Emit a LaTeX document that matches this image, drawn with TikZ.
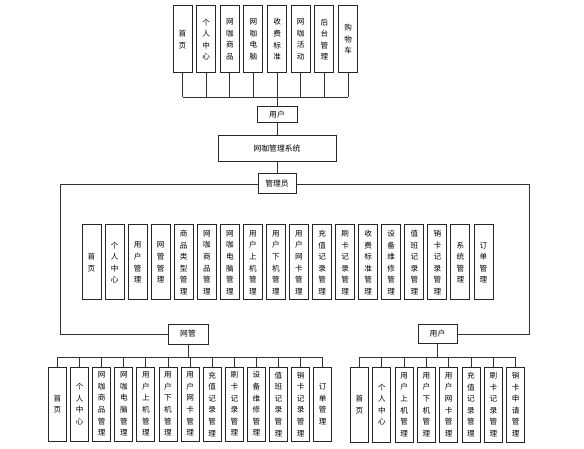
\documentclass[tikz,border=0pt]{standalone}
\usepackage{fontspec}
\newfontfamily\cjk{Noto Sans CJK SC}
\usetikzlibrary{positioning}

\begin{document}
\begin{tikzpicture}[
    x=1pt, y=-1pt,
    vbox/.style={draw=black!85, line width=1pt, fill=white, inner sep=0pt, align=center, font=\cjk\fontsize{7.6}{11.6}\selectfont},
    hbox/.style={draw=black!85, line width=1pt, fill=white, inner sep=0pt, font=\cjk\fontsize{7.8}{9}\selectfont},
    link/.style={draw=black!80, line width=0.9pt}
]
    \useasboundingbox (0,0) rectangle (584,449);

    % front page modules
    \foreach \t [count=\i] in {{首\\页},{个\\人\\中\\心},{网\\咖\\商\\品},{网\\咖\\电\\脑},{收\\费\\标\\准},{网\\咖\\活\\动},{后\\台\\管\\理},{购\\物\\车}}
        \node[vbox, minimum width=19pt, minimum height=67pt] (t\i) at ({182.5+23.65*(\i-1)}, 39.5) {\t};

    % system chain
    \node[hbox, minimum width=40pt, minimum height=16pt] (user) at (277,115) {用户};
    \node[hbox, minimum width=118pt, minimum height=26pt, below=12pt of user] (sys) {网咖管理系统};
    \node[hbox, minimum width=38pt, minimum height=20pt, below=11pt of sys] (admin) {管理员};

    % admin modules
    \foreach \t [count=\i] in {{首\\页},{个\\人\\中\\心},{用\\户\\管\\理},{网\\管\\管\\理},{商\\品\\类\\型\\管\\理},{网\\咖\\商\\品\\管\\理},{网\\咖\\电\\脑\\管\\理},{用\\户\\上\\机\\管\\理},{用\\户\\下\\机\\管\\理},{用\\户\\网\\卡\\管\\理},{充\\值\\记\\录\\管\\理},{刷\\卡\\记\\录\\管\\理},{收\\费\\标\\准\\管\\理},{设\\备\\维\\修\\管\\理},{值\\班\\记\\录\\管\\理},{销\\卡\\记\\录\\管\\理},{系\\统\\管\\理},{订\\单\\管\\理}}
        \node[vbox, minimum width=19pt, minimum height=75pt] (m\i) at ({91.5+23.06*(\i-1)}, 262.5) {\t};

    % roles
    \node[hbox, minimum width=40pt, minimum height=20pt] (wg) at (188,334) {网管};
    \node[hbox, minimum width=39pt, minimum height=19pt] (yh) at (437.5,334) {用户};

    % net admin modules
    \foreach \t [count=\i] in {{首\\页},{个\\人\\中\\心},{网\\咖\\商\\品\\管\\理},{网\\咖\\电\\脑\\管\\理},{用\\户\\上\\机\\管\\理},{用\\户\\下\\机\\管\\理},{用\\户\\网\\卡\\管\\理},{充\\值\\记\\录\\管\\理},{刷\\卡\\记\\录\\管\\理},{设\\备\\维\\修\\管\\理},{值\\班\\记\\录\\管\\理},{销\\卡\\记\\录\\管\\理},{订\\单\\管\\理}}
        \node[vbox, minimum width=18pt, minimum height=74pt] (w\i) at ({57.5+22.1*(\i-1)}, 404) {\t};

    % user modules
    \foreach \t [count=\i] in {{首\\页},{个\\人\\中\\心},{用\\户\\上\\机\\管\\理},{用\\户\\下\\机\\管\\理},{用\\户\\网\\卡\\管\\理},{充\\值\\记\\录\\管\\理},{刷\\卡\\记\\录\\管\\理},{销\\卡\\申\\请\\管\\理}}
        \node[vbox, minimum width=18pt, minimum height=75pt] (u\i) at ({359.5+22.3*(\i-1)}, 404.5) {\t};

    % connectors
    \coordinate (topbus) at (277,97);
    \foreach \i in {1,...,8}
        \draw[link] (t\i.south) -- (t\i.south |- topbus);
    \draw[link] (t1.south |- topbus) -- (t8.south |- topbus);
    \draw[link] (topbus) -- (user.north);
    \draw[link] (user) -- (sys);
    \draw[link] (sys) -- (admin);

    \coordinate (lcorner) at (60,334);
    \coordinate (rcorner) at (529,334);
    \draw[link] (admin.west) -| (lcorner) -- (wg.west);
    \draw[link] (admin.east) -| (rcorner) -- (yh.east);

    \coordinate (wgbus) at (188,357);
    \draw[link] (wg.south) -- (wgbus);
    \foreach \i in {1,...,13}
        \draw[link] (w\i.north) -- (w\i.north |- wgbus);
    \draw[link] (w1.north |- wgbus) -- (w13.north |- wgbus);

    \coordinate (yhbus) at (437.5,357);
    \draw[link] (yh.south) -- (yhbus);
    \foreach \i in {1,...,8}
        \draw[link] (u\i.north) -- (u\i.north |- yhbus);
    \draw[link] (u1.north |- yhbus) -- (u8.north |- yhbus);
\end{tikzpicture}
\end{document}
